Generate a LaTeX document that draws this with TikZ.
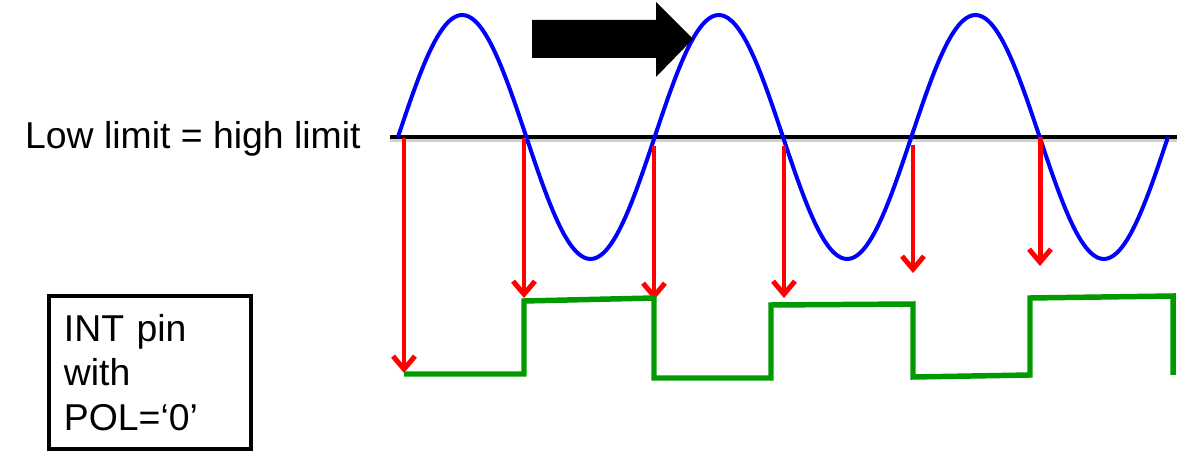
\documentclass[tikz,border=0pt]{standalone}
\usepackage{fontspec}
\setmainfont{Liberation Sans}
\usetikzlibrary{arrows.meta,positioning}
\definecolor{wavegreen}{RGB}{0,153,0}

\begin{document}
\begin{tikzpicture}[%
      x=1bp, y=-1bp,
      every node/.style={inner sep=0pt, font=\fontsize{37.5}{45}\selectfont},
      sig/.style={blue, line width=4pt},
      lim/.style={black, line width=4.5pt},
      trig/.style={red, line width=5pt, -{Straight Barb[length=13pt, width=22pt]}},
      outwave/.style={wavegreen, line width=5.5pt},
      >=latex
    ]
    \useasboundingbox (0,0) rectangle (1185,461);
    % threshold line and its label
    \node [anchor=base west] (lbl) at (25,149) {Low limit = high limit};
    \coordinate (limL) at (390,137);
    \coordinate (limR) at (1177,137);
    \draw [lim, black!18, transform canvas={yshift=-3bp}] (limL) -- (limR);
    \draw [lim] (limL) -- (limR);
    % input signal
    \draw [sig] plot[domain=0:770, samples=241, smooth]
      ({398+\x},{137-122*sin(1.40262*\x)});
    % direction of time
    \fill [black] (532,20) -- (656,20) -- (656,2) -- (693,39) -- (656,77)
      -- (656,58) -- (532,58) -- cycle;
    % crossings
    \foreach \n/\x/\ys/\ye in {1/404/138/373, 2/524/138/298, 3/654/146/300,
                                4/784/146/298, 5/913/145/273, 6/1040/137/266} {
      \coordinate (c\n) at (\x,\ys);
      \coordinate (t\n) at (\x,\ye);
      \draw [trig] (c\n) -- (t\n);
    }
    % INT pin output
    \draw [outwave] (404,374) -- (524,374) -- (524,301) -- (654,298) -- (654,378)
      -- (771,378) -- (771,305) -- (913,304) -- (913,377) -- (1030,375)
      -- (1030,298) -- (1173,296) -- (1173,375);
    \node [draw, line width=4pt, anchor=north west, inner xsep=15pt,
      text width=172bp, minimum height=153bp, align=left] (pin) at (47,294)
      {INT pin\\with\\POL=‘0’};
  \end{tikzpicture}
\end{document}
